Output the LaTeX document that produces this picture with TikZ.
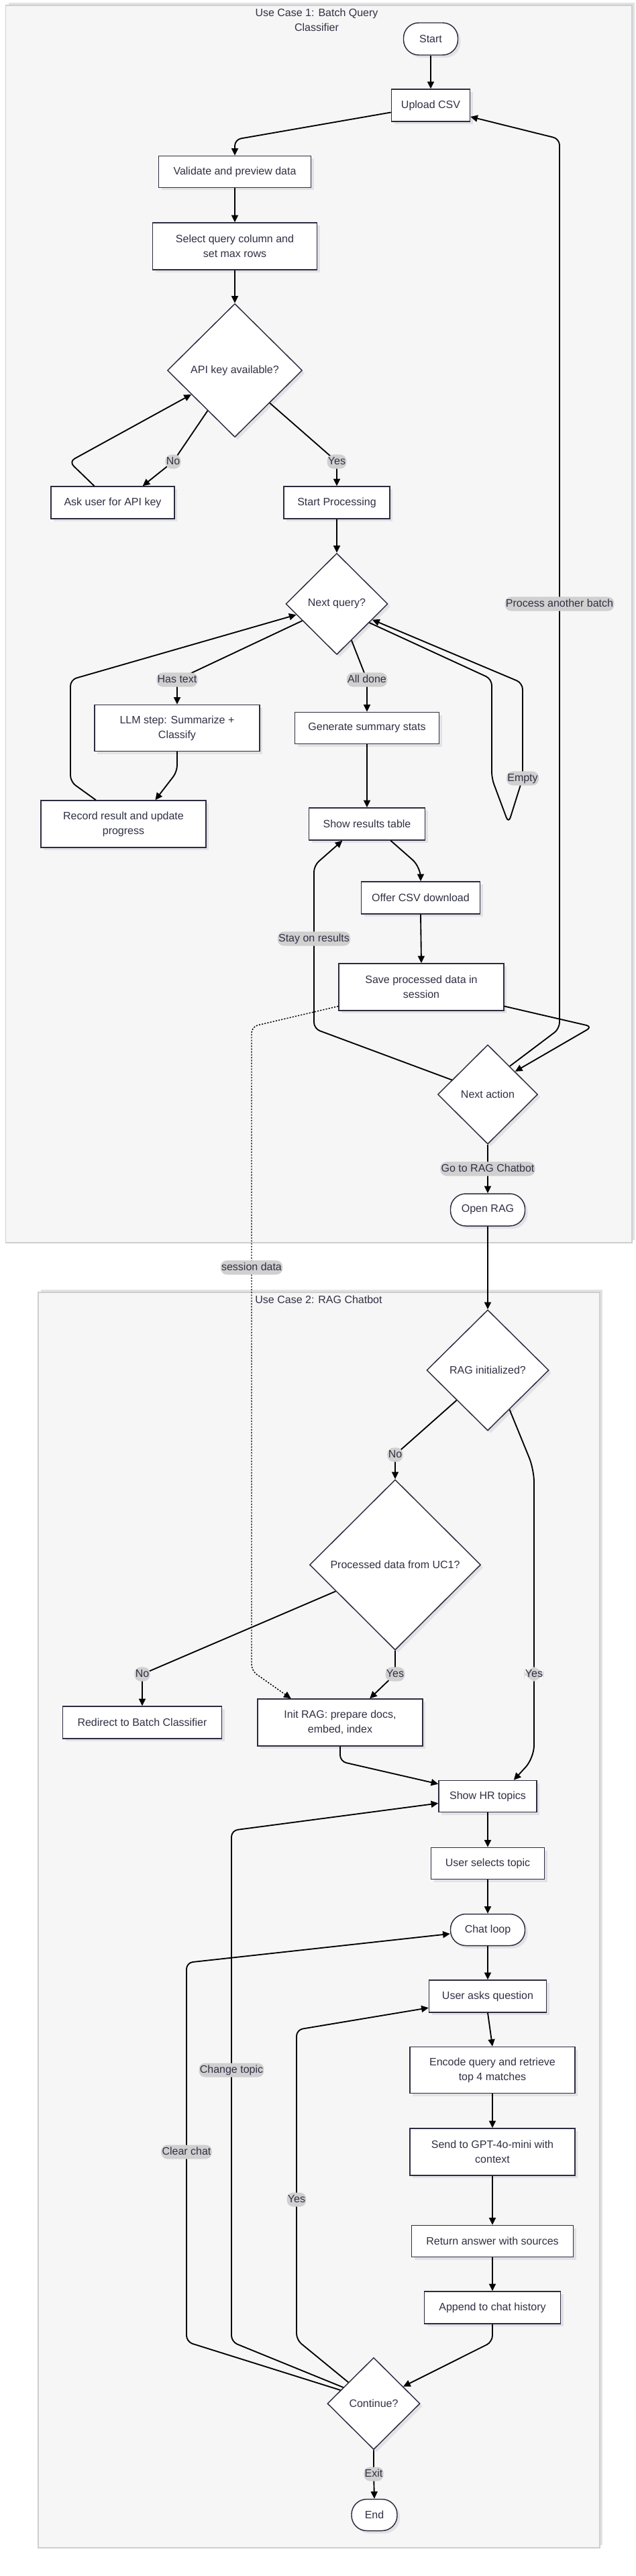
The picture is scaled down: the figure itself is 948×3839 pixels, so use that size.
\documentclass[tikz,border=0pt]{standalone}
\usepackage{fontspec}
\setmainfont{Liberation Sans}
\usetikzlibrary{shapes.geometric,arrows.meta,shadows}

\definecolor{nodeline}{RGB}{44,44,64}
\definecolor{nodetext}{RGB}{48,48,68}
\definecolor{clusterfill}{RGB}{246,246,246}
\definecolor{clusterline}{RGB}{206,206,206}
\definecolor{labelfill}{RGB}{208,208,208}
\definecolor{shadowgray}{RGB}{226,226,230}

\tikzset{every picture/.style={line width=0.75pt}}
\tikzset{
	sz/.style 2 args={minimum width=#1*0.75pt, minimum height=#2*0.75pt},
	procbox/.style={draw=nodeline, fill=white, line width=1.1pt, text=nodetext, font=\fontsize{12}{16.7}\selectfont, align=center, inner sep=0pt, drop shadow={shadow xshift=3pt, shadow yshift=-3pt, fill=shadowgray, opacity=1}},
	terminal/.style={procbox, rounded corners=17pt},
	decision/.style={procbox, diamond, aspect=1},
	flow/.style={draw=black, line width=1.4pt, rounded corners=7pt, -{Triangle[length=8pt,width=7.5pt]}},
	dataflow/.style={flow, line width=1.1pt, dash pattern=on 1.6pt off 1.6pt},
	elabel/.style={fill=labelfill, text=nodetext, font=\fontsize{12}{14}\selectfont, inner xsep=1pt, inner ysep=1.9pt, text height=9pt, text depth=3pt},
	cluster/.style={fill=clusterfill, draw=clusterline, line width=1pt, drop shadow={shadow xshift=3pt, shadow yshift=3pt, fill=shadowgray, opacity=1}},
	clustertitle/.style={text=nodetext, font=\fontsize{12}{16.7}\selectfont, align=center}
}

\begin{document}
\begin{tikzpicture}[x=0.75pt,y=0.75pt,yscale=-1,xscale=1]
	\useasboundingbox (0,0) rectangle (948,3839);
	\fill[white] (0,0) rectangle (948,3839);

	%Shape: Rectangle [cluster 1]
	\draw[cluster] (8.5,8) rectangle (942,1852);
	%Shape: Rectangle [cluster 2]
	\draw[cluster] (57,1926) rectangle (894,3797);

	% Text Node
	\node[clustertitle] (titlebatch) at (472,30) {Use Case 1: Batch Query\\Classifier};
	% Text Node
	\node[clustertitle] (titlerag) at (475,1937) {Use Case 2: RAG Chatbot};

	%Shape: Terminal
	\node[terminal, sz={81}{48}] (start) at (642,58) {Start};
	%Shape: Rectangle
	\node[procbox, sz={117}{48}] (upload) at (642,157) {Upload CSV};
	%Shape: Rectangle
	\node[procbox, sz={227}{47}] (validate) at (350,256) {Validate and preview data};
	%Shape: Rectangle
	\node[procbox, sz={245}{70}] (selectcol) at (350,367) {Select query column and\\set max rows};
	%Shape: Diamond
	\node[decision, sz={201}{199}] (apikey) at (350,552) {API key available?};
	%Shape: Rectangle
	\node[procbox, sz={184}{48}] (askkey) at (168,749) {Ask user for API key};
	%Shape: Rectangle
	\node[procbox, sz={158}{48}] (startproc) at (502,749) {Start Processing};
	%Shape: Diamond
	\node[decision, sz={152}{151}] (nextquery) at (502,900) {Next query?};
	%Shape: Rectangle
	\node[procbox, sz={246}{69}] (llmstep) at (264,1085) {LLM step: Summarize +\\Classify};
	%Shape: Rectangle
	\node[procbox, sz={246}{70}] (record) at (184,1228) {Record result and update\\progress};
	%Shape: Rectangle
	\node[procbox, sz={215}{47}] (gensum) at (547,1085) {Generate summary stats};
	%Shape: Rectangle
	\node[procbox, sz={173}{48}] (showtable) at (547,1228) {Show results table};
	%Shape: Rectangle
	\node[procbox, sz={177}{48}] (offercsv) at (627,1338) {Offer CSV download};
	%Shape: Rectangle
	\node[procbox, sz={246}{70}] (savesess) at (628,1471) {Save processed data in\\session};
	%Shape: Diamond
	\node[decision, sz={149}{148}] (nextaction) at (727,1631) {Next action};
	%Shape: Terminal
	\node[terminal, sz={111}{48}] (openrag) at (727,1803) {Open RAG};

	%Shape: Diamond
	\node[decision, sz={182}{180}] (raginit) at (727,2042) {RAG initialized?};
	%Shape: Diamond
	\node[decision, sz={255}{254}] (procdata) at (589,2332) {Processed data from UC1?};
	%Shape: Rectangle
	\node[procbox, sz={237}{48}] (redirect) at (212,2567) {Redirect to Batch Classifier};
	%Shape: Rectangle
	\node[procbox, sz={246}{70}] (initrag) at (507,2567) {Init RAG: prepare docs,\\embed, index};
	%Shape: Rectangle
	\node[procbox, sz={146}{47}] (showhr) at (727,2677) {Show HR topics};
	%Shape: Rectangle
	\node[procbox, sz={169}{47}] (selecttopic) at (727,2777) {User selects topic};
	%Shape: Terminal
	\node[terminal, sz={111}{47}] (chatloop) at (727,2876) {Chat loop};
	%Shape: Rectangle
	\node[procbox, sz={175}{48}] (askq) at (727,2975) {User asks question};
	%Shape: Rectangle
	\node[procbox, sz={246}{69}] (encode) at (734,3085) {Encode query and retrieve\\top 4 matches};
	%Shape: Rectangle
	\node[procbox, sz={246}{70}] (sendgpt) at (734,3207) {Send to GPT-4o-mini with\\context};
	%Shape: Rectangle
	\node[procbox, sz={241}{47}] (answer) at (734,3340) {Return answer with sources};
	%Shape: Rectangle
	\node[procbox, sz={203}{48}] (append) at (734,3439) {Append to chat history};
	%Shape: Diamond
	\node[decision, sz={138}{137}] (cont) at (557,3582) {Continue?};
	%Shape: Terminal
	\node[terminal, sz={68}{47}] (finish) at (558,3748) {End};

	%Straight Lines [batch classifier]
	\draw[flow] (start.south) -- (upload.north);
	\draw[flow] (upload.190) -- (350,208) -- (validate.north);
	\draw[flow] (validate.south) -- (selectcol.north);
	\draw[flow] (selectcol.south) -- (apikey.north);
	\draw[flow] (apikey.236) -- (258,688) node[elabel] (lblkeyno) {No} -- (askkey.29);
	\draw[flow] (askkey.138) -- (103,688) -- (apikey.209);
	\draw[flow] (apikey.317) -- (502,688) node[elabel] (lblkeyyes) {Yes} -- (startproc.north);
	\draw[flow] (startproc.south) -- (nextquery.north);
	\draw[flow] (nextquery.206) -- (264,1013) node[elabel] (lblhastext) {Has text} -- (llmstep.north);
	\draw[flow] (llmstep.south) -- (264,1150) -- (record.37);
	\draw[flow] (record.139) -- (105,1165) -- (105,1013) -- (nextquery.195);
	\draw[flow] (nextquery.292) -- (547,1013) node[elabel] (lbldone) {All done} -- (gensum.north);
	\draw[flow] (nextquery.330) -- (733,1012) -- (733,1160) -- (758,1227) -- (779,1160) node[elabel] (lblempty) {Empty} -- (779,1018) -- (nextquery.336);
	\draw[flow] (gensum.south) -- (showtable.north);
	\draw[flow, rounded corners=12pt] (showtable.325) -- (627,1292) -- (offercsv.north);
	\draw[flow] (offercsv.south) -- (savesess.north);
	\draw[flow] (savesess.347) -- (883,1530) -- (nextaction.40);
	\draw[flow] (nextaction.52) -- (834,1533) -- (834,900) node[elabel] (lblbatch) {Process another batch} -- (834,207) -- (upload.344);
	\draw[flow] (nextaction.158) -- (468,1533) -- (468,1399) node[elabel] (lblstay) {Stay on results} -- (468,1290) -- (showtable.214);
	\draw[flow] (nextaction.south) -- (727,1742) node[elabel] (lblgorag) {Go to RAG Chatbot} -- (openrag.north);

	%Straight Lines [session data]
	\draw[dataflow] (savesess.193) -- (375,1530) -- (375,1889) node[elabel] (lblsession) {session data} -- (375,2490) -- (initrag.154);

	%Straight Lines [rag chatbot]
	\draw[flow] (openrag.south) -- (raginit.north);
	\draw[flow] (raginit.224) -- (589,2168) node[elabel] (lblragno) {No} -- (procdata.north);
	\draw[flow, rounded corners=14pt] (raginit.299) -- (796,2190) -- (796,2495) node[elabel] (lblragyes) {Yes} -- (796,2620) -- (showhr.32);
	\draw[flow] (procdata.204) -- (212,2495) node[elabel] (lbldatano) {No} -- (redirect.north);
	\draw[flow] (procdata.south) -- (589,2495) node[elabel] (lbldatayes) {Yes} -- (initrag.39);
	\draw[flow] (initrag.south) -- (507,2625) -- (showhr.166);
	\draw[flow] (showhr.south) -- (selecttopic.north);
	\draw[flow] (selecttopic.south) -- (chatloop.north);
	\draw[flow] (chatloop.south) -- (askq.north);
	\draw[flow] (askq.south) -- (encode.north);
	\draw[flow] (encode.south) -- (sendgpt.north);
	\draw[flow] (sendgpt.south) -- (answer.north);
	\draw[flow] (answer.south) -- (append.north);
	\draw[flow] (append.south) -- (734,3490) -- (cont.30);
	\draw[flow] (cont.140) -- (442,3487) -- (442,3278) node[elabel] (lblyes) {Yes} -- (442,3025) -- (askq.191);
	\draw[flow] (cont.152) -- (345,3490) -- (345,3085) node[elabel] (lbltopic) {Change topic} -- (345,2728) -- (showhr.188);
	\draw[flow] (cont.158) -- (278,3490) -- (278,3207) node[elabel] (lblclear) {Clear chat} -- (278,2925) -- (chatloop.186);
	\draw[flow] (cont.south) -- (557,3687) node[elabel] (lblexit) {Exit} -- (finish.north);

\end{tikzpicture}
\end{document}
